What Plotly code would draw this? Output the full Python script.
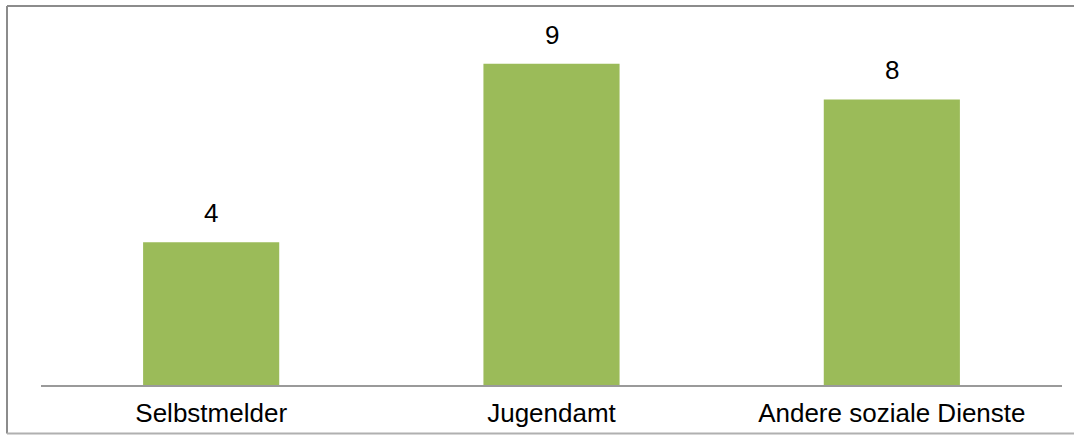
import plotly.graph_objects as go

categories = ["Selbstmelder", "Jugendamt", "Andere soziale Dienste"]
values = [4, 9, 8]

bar_color = "#9BBB59"
font_family = "Liberation Sans, Arial, sans-serif"

fig = go.Figure(
    go.Bar(
        x=categories,
        y=values,
        marker=dict(color=bar_color, line=dict(width=0)),
        width=0.4,
        hoverinfo="skip",
    )
)

# value labels above each bar
for c, v in zip(categories, values):
    fig.add_annotation(
        x=c, y=v, text=str(v), showarrow=False,
        yanchor="bottom", yshift=12,
        font=dict(family=font_family, size=26, color="#000000"),
    )

# outer frame of the chart area (left, top and bottom edges; right edge runs off the canvas)
frame = dict(type="line", xref="paper", yref="paper", layer="below")
fig.add_shape(x0=-0.0333, x1=-0.0333, y0=-0.136, y1=1.0615,
              line=dict(color="#8c8c8c", width=2), **frame)
fig.add_shape(x0=-0.0333, x1=1.2, y0=1.0615, y1=1.0615,
              line=dict(color="#8c8c8c", width=2), **frame)
fig.add_shape(x0=-0.0333, x1=1.2, y0=-0.136, y1=-0.136,
              line=dict(color="#b0b0b0", width=2), **frame)

fig.update_layout(
    width=1074, height=435,
    margin=dict(l=41, r=12, t=28, b=50, autoexpand=False),
    paper_bgcolor="white", plot_bgcolor="white",
    showlegend=False,
    font=dict(family=font_family, size=26, color="#000000"),
    xaxis=dict(
        showline=True, linecolor="#9a9a9a", linewidth=2,
        showgrid=False, ticks="", tickfont=dict(size=26),
        ticklabelstandoff=4, automargin=False,
        fixedrange=True,
    ),
    yaxis=dict(
        range=[0, 10], visible=False, showgrid=False, fixedrange=True,
        automargin=False,
    ),
)

fig.write_html("out.html")
